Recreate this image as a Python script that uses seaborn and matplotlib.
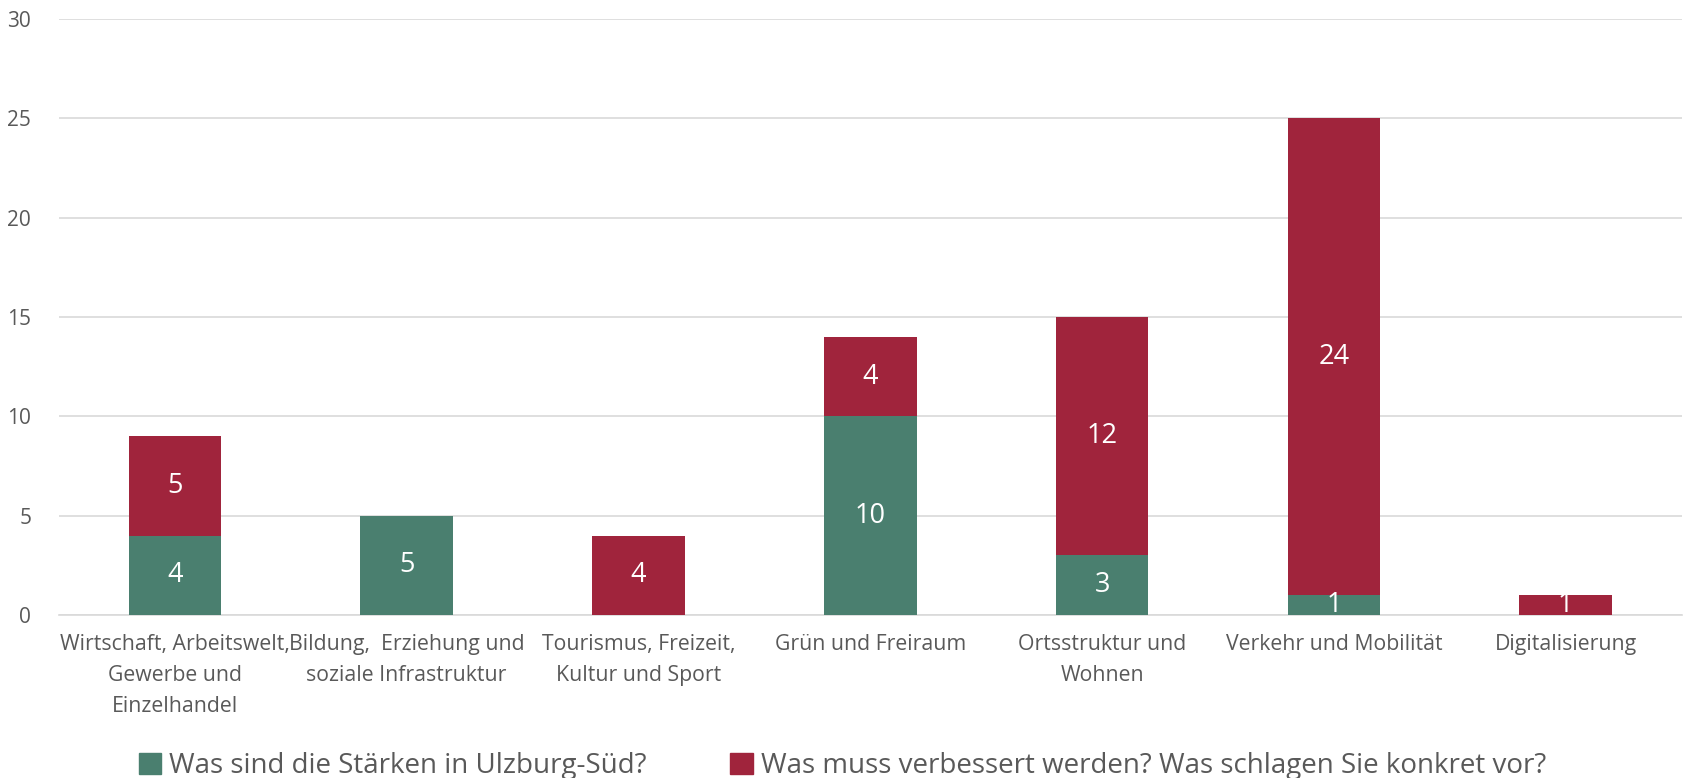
import pandas as pd
import seaborn as sns
from matplotlib import pyplot as plt
from matplotlib.patches import Patch

categories = [
    "Wirtschaft, Arbeitswelt,\nGewerbe und\nEinzelhandel",
    "Bildung,  Erziehung und\nsoziale Infrastruktur",
    "Tourismus, Freizeit,\nKultur und Sport",
    "Grün und Freiraum",
    "Ortsstruktur und\nWohnen",
    "Verkehr und Mobilität",
    "Digitalisierung",
]
staerken = [4, 5, 0, 10, 3, 1, 0]
verbessern = [5, 0, 4, 4, 12, 24, 1]
series_names = [
    "Was sind die Stärken in Ulzburg-Süd?",
    "Was muss verbessert werden? Was schlagen Sie konkret vor?",
]
colors = ["#4A7F6F", "#A0243C"]

df = pd.DataFrame({"Kategorie": categories, "Stärken": staerken, "Verbessern": verbessern})
df["Gesamt"] = df["Stärken"] + df["Verbessern"]

sns.set_theme(style="white")
plt.rcParams["font.family"] = ["Open Sans", "DejaVu Sans"]

fig = plt.figure(figsize=(16.85, 7.78), dpi=100)
ax = fig.add_axes([0.035, 0.2095, 0.963, 0.766])

# stacked: total in red, green drawn over it
sns.barplot(data=df, x="Kategorie", y="Gesamt", color=colors[1], width=0.4,
            saturation=1, linewidth=0, ax=ax, zorder=3)
sns.barplot(data=df, x="Kategorie", y="Stärken", color=colors[0], width=0.4,
            saturation=1, linewidth=0, ax=ax, zorder=3)

for i, row in df.iterrows():
    if row["Stärken"] > 0:
        ax.text(i, row["Stärken"] / 2, str(row["Stärken"]), ha="center", va="center",
                color="white", fontsize=19.5, zorder=4)
    if row["Verbessern"] > 0:
        ax.text(i, row["Stärken"] + row["Verbessern"] / 2, str(row["Verbessern"]),
                ha="center", va="center", color="white", fontsize=19.5, zorder=4)

ax.set_ylim(0, 30)
ax.set_xlim(-0.5, len(categories) - 0.5)
ax.set_yticks(range(0, 31, 5))
ax.yaxis.grid(True, color="#D9D9D9", linewidth=1.2, zorder=0)
ax.set_xlabel("")
ax.set_ylabel("")
for s in ["top", "right", "left"]:
    ax.spines[s].set_visible(False)
ax.spines["bottom"].set_color("#D9D9D9")
ax.spines["bottom"].set_linewidth(1.2)
ax.tick_params(axis="both", length=0, colors="#595959")
ax.tick_params(axis="x", pad=14, labelsize=15.3)
ax.tick_params(axis="y", pad=20, labelsize=15)
for lbl in ax.get_xticklabels():
    lbl.set_linespacing(1.6)

handles = [Patch(color=c) for c in colors]
fig.legend(handles, series_names, loc="lower center", ncol=2, frameon=False,
           fontsize=20, bbox_to_anchor=(0.5, -0.035), handlelength=0.8,
           handleheight=0.8, handletextpad=0.3, columnspacing=3,
           labelcolor="#595959")

fig.savefig("out.png", dpi=100)
